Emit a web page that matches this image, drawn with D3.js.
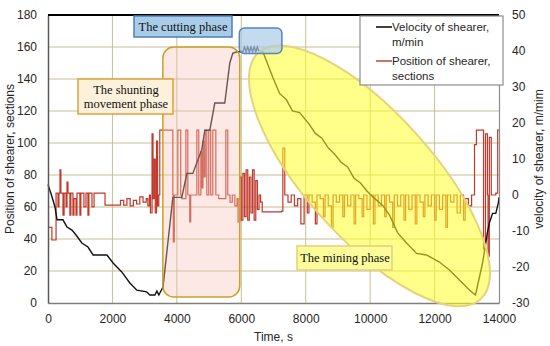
<!DOCTYPE html>
<html>
<head>
<meta charset="utf-8">
<script src="https://cdn.jsdelivr.net/npm/d3@7"></script>
<style>
body { margin: 0; background: #fff; }
svg { display: block; font-family: "Liberation Sans", Arial, sans-serif; }
</style>
</head>
<body>
<svg id="chart" width="550" height="346"></svg>
<script>
// black curve, read on the left axis (sections)
const blackTime = [0, 100, 217, 280, 465, 590, 745, 870, 1050, 1240, 1400, 1830, 2020, 2290, 2540, 2760, 3060, 3160, 3320, 3380, 3440, 3570,
    3876, 4155, 4310, 4496, 4775, 4868, 5023, 5178, 5488, 5643, 5736, 5860, 6050,
    6100, 6150, 6200, 6250, 6300, 6350, 6400, 6450, 6500, 6550, 6670,
    6980, 7190, 7400, 7590, 7810, 8100, 8300, 8500, 8700, 8900, 9100, 9300, 9500, 9700, 9900, 10100, 10390, 10600, 10850,
    11130, 11440, 11750, 12150, 12460, 12770, 13090, 13270, 13490, 13640, 13700, 13800, 13900, 13980, 14000];
const blackValue = [74, 68, 60, 52, 52, 47.5, 45.6, 42.5, 37.5, 35, 30, 30, 25, 19.4, 12.5, 8, 7, 5, 5, 7.5, 5, 10,
    66, 66, 81, 81, 96, 108, 108, 125, 125, 150, 156, 157, 157,
    160, 157, 160, 157, 160, 157, 160, 157, 160, 157, 157,
    141, 131, 127, 120, 119, 112, 106, 103, 97, 93, 88, 85, 78, 75, 70, 66, 61, 55, 44,
    37.5, 31, 30, 25.6, 20.6, 14.4, 8, 5, 25, 44, 50, 56, 56, 62.5, 66];

// red curve, read on the right axis (m/min), held until the next time
const redTime = [0, 120, 250, 310, 340, 372, 400, 465, 500, 560, 590, 620, 680, 710, 775, 805, 870, 900, 990, 1020, 1115, 1180, 1240, 1270, 1365, 1430,
    1770, 2200, 2250, 2350, 2450, 2550, 2650, 2750, 2850, 2950, 3050, 3100, 3150, 3180, 3230, 3260, 3300, 3330, 3370, 3400, 3440,
    3470, 3875, 3890, 3920, 4030, 4120, 4150, 4280, 4340, 4400, 4430, 4620, 4680, 4745, 4780, 4810, 4850, 4880, 4930, 4990, 5050, 5115, 5210,
    5300, 5520, 5580, 5650, 5720, 5800, 5870, 5900,
    5950, 6000, 6050, 6100, 6150, 6200, 6250, 6300, 6350, 6400, 6450, 6500, 6550, 6600, 6650,
    7250, 7290, 7350, 7450, 7550, 7650, 7750, 7850, 7950, 8050, 8100, 8200, 8300, 8350, 8450, 8550, 8600, 8700, 8800, 8850, 8950, 9050,
    9150, 9200, 9300, 9400, 9500, 9550, 9650, 9750, 9800, 9900, 10000, 10100, 10150, 10250, 10350, 10450, 10500, 10600, 10700, 10750,
    10850, 10950, 11050, 11100, 11200, 11300, 11400, 11450, 11550, 11650, 11700, 11800, 11900, 12000, 12050, 12150, 12250, 12350, 12400,
    12500, 12600, 12700, 12800, 12900, 12950, 13050, 13150, 13240,
    13300, 13500, 13520, 13580, 13640, 13660, 13700, 13760, 13900, 13960, 14000];
const redValue = [-9, -12.5, 0.5, -3.3, 0.5, 7, 0.5, -5.6, 0.5, -3.3, 3.6, 0.5, -5.6, 0.5, -5.6, -1, -5.6, 0.5, -5.6, 0.5, -3.3, 0.5, -5.6, 0.5, -3.3, 0.5,
    -2.8, -2.8, -1.5, -2.8, -1, -3, -1.5, -2.5, -0.5, -2, -1, -3, 0, -5, 17, -1, 10, -5, 15, -3, 0,
    18, 0, -13, 0, 18, 0, -1, 18, 0, -7.5, 0, 18, 0, 12, 2, 15, 5, 18, 0, 18, 0, 18, 0,
    -1, 18, 0, -2, 0, -3, -1, -7.5,
    5, -7, 6, -6, 7, -7, 5, -5, 7, -7, 4, -4, 0, -2, -4.7,
    -4.5, 13, 0, -2, 0, -3, -1, -8, 0, -5, 0, -2, -8, 0, -1, -6, 0, -3, -9, 0, -2, 0,
    -6, 0, -3, 0, -8, 0, -1, -6, 0, -4, 0, -8, 0, -3, 0, -6, 0, -2, -9, 0,
    -3, 0, -7, 0, -4, 0, -8, 0, -2, -6, 0, -3, 0, -7, 0, -4, 0, -9, 0,
    -2, 0, -5, 0, -7, -1, -3, 0, 14,
    18, 18, -15, 17, 0, -17, 16, 0, 0.5, 18, 18];

const xTicks = [0, 2000, 4000, 6000, 8000, 10000, 12000, 14000];
const leftTicks = [0, 20, 40, 60, 80, 100, 120, 140, 160, 180];
const rightTicks = [-30, -20, -10, 0, 10, 20, 30, 40, 50];

const svg = d3.select("#chart"),
      margin = { top: 15, right: 51, bottom: 43, left: 48 },
      width = +svg.attr("width") - margin.left - margin.right,
      height = +svg.attr("height") - margin.top - margin.bottom;

const x = d3.scaleLinear().domain([0, 14000]).range([margin.left, margin.left + width]);
const yL = d3.scaleLinear().domain([0, 180]).range([margin.top + height, margin.top]);
const yR = d3.scaleLinear().domain([-30, 50]).range([margin.top + height, margin.top]);

const gridColor = "#c5c092";

// grid
svg.append("g").selectAll("line")
    .data(leftTicks.slice(1, -1))
    .join("line")
    .attr("x1", x(0)).attr("x2", x(14000))
    .attr("y1", d => yL(d)).attr("y2", d => yL(d))
    .attr("stroke", gridColor).attr("stroke-width", 1);

svg.append("g").selectAll("line")
    .data(xTicks.slice(1, -1))
    .join("line")
    .attr("x1", d => x(d)).attr("x2", d => x(d))
    .attr("y1", yL(0)).attr("y2", yL(180))
    .attr("stroke", gridColor).attr("stroke-width", 1);

// series
const redLine = d3.line()
    .x((d, i) => x(redTime[i]))
    .y(d => yR(d))
    .curve(d3.curveStepAfter);
svg.append("path")
    .attr("d", redLine(redValue))
    .attr("fill", "none")
    .attr("stroke", "#c0392b")
    .attr("stroke-width", 1.2);

const blackLine = d3.line()
    .x((d, i) => x(blackTime[i]))
    .y(d => yL(d));
svg.append("path")
    .attr("d", blackLine(blackValue))
    .attr("fill", "none")
    .attr("stroke", "#111")
    .attr("stroke-width", 1.4);

// axes
svg.append("g")
    .attr("transform", `translate(0,${yL(0)})`)
    .call(d3.axisBottom(x).tickValues(xTicks).tickSize(0).tickPadding(11).tickFormat(d3.format("d")))
    .call(g => g.select(".domain").attr("stroke", "#7f7f7f").attr("stroke-width", 1.5))
    .call(g => g.selectAll("text").attr("font-size", 12).attr("fill", "#262626").attr("font-family", "Liberation Sans, Arial, sans-serif"));

svg.append("g")
    .attr("transform", `translate(${x(0)},0)`)
    .call(d3.axisLeft(yL).tickValues(leftTicks).tickSize(0).tickPadding(11))
    .call(g => g.select(".domain").attr("stroke", "#595959").attr("stroke-width", 1.5))
    .call(g => g.selectAll("text").attr("font-size", 12).attr("fill", "#262626").attr("font-family", "Liberation Sans, Arial, sans-serif"));

svg.append("g")
    .attr("transform", `translate(${x(14000)},0)`)
    .call(d3.axisRight(yR).tickValues(rightTicks).tickSize(0).tickPadding(13).tickFormat(d => d < 0 ? "-" + Math.abs(d) : d))
    .call(g => g.select(".domain").attr("stroke", "#8c8c8c").attr("stroke-width", 1.2))
    .call(g => g.selectAll("text").attr("font-size", 12).attr("fill", "#262626").attr("font-family", "Liberation Sans, Arial, sans-serif"));

svg.append("line")
    .attr("x1", x(0)).attr("x2", x(14000))
    .attr("y1", yL(180)).attr("y2", yL(180))
    .attr("stroke", "#000").attr("stroke-width", 2);

// axis titles
svg.append("text")
    .attr("x", x(7000)).attr("y", 341)
    .attr("text-anchor", "middle")
    .attr("font-size", 12).attr("fill", "#262626")
    .text("Time, s");

svg.append("text")
    .attr("transform", `translate(14,${yL(90)}) rotate(-90)`)
    .attr("text-anchor", "middle")
    .attr("font-size", 12).attr("fill", "#262626")
    .text("Position of shearer, sections");

svg.append("text")
    .attr("transform", `translate(543,${yR(10)}) rotate(-90)`)
    .attr("text-anchor", "middle")
    .attr("font-size", 12).attr("fill", "#262626")
    .text("velocity of shearer, m/mim");

// phase shapes
const serif = "Liberation Serif, Times New Roman, serif";

svg.append("rect")
    .attr("x", x(3565)).attr("y", yL(160))
    .attr("width", x(5952) - x(3565)).attr("height", yL(3.75) - yL(160))
    .attr("rx", 11)
    .attr("fill", "#f6c2b8").attr("fill-opacity", 0.38)
    .attr("stroke", "#c9a128").attr("stroke-width", 1.5);

const ecx = x(9980), ecy = yL(79.4);
svg.append("ellipse")
    .attr("cx", ecx).attr("cy", ecy)
    .attr("rx", 166).attr("ry", 63)
    .attr("transform", `rotate(48,${ecx},${ecy})`)
    .attr("fill", "#ffff2a").attr("fill-opacity", 0.55)
    .attr("stroke", "#e6d27a").attr("stroke-width", 2);

svg.append("rect")
    .attr("x", x(5940)).attr("y", yL(171.9))
    .attr("width", x(7260) - x(5940)).attr("height", yL(156) - yL(171.9))
    .attr("rx", 5)
    .attr("fill", "#a9cbe8").attr("fill-opacity", 0.7)
    .attr("stroke", "#5a85b8").attr("stroke-width", 1.5);

function label(x0, y0, w, h, lines, fill, stroke, cx, base) {
    svg.append("rect")
        .attr("x", x0).attr("y", y0).attr("width", w).attr("height", h)
        .attr("fill", fill).attr("stroke", stroke).attr("stroke-width", 1.5);
    lines.forEach((t, i) => {
        svg.append("text")
            .attr("x", cx).attr("y", base + i * 13.5)
            .attr("text-anchor", "middle")
            .attr("font-family", serif).attr("font-size", 12.5).attr("fill", "#111")
            .text(t);
    });
}

label(134, 16, 98, 21, ["The cutting phase"], "#a9cde8", "#4f7fb5", 183, 31);
label(78, 79, 95, 35, ["The shunting", "movement phase"], "#fdf1dc", "#dca238", 126, 94);
label(297, 246, 95, 24, ["The mining phase"], "#fdfc9a", "#e3cf78", 345, 262);

// legend
const legend = svg.append("g");
legend.append("rect")
    .attr("x", 360).attr("y", 16).attr("width", 143).attr("height", 69)
    .attr("fill", "#fff").attr("stroke", "#8c8c8c").attr("stroke-width", 1.2);

const legendItems = [
    { color: "#111", lines: ["Velocity of shearer,", "m/min"], y: 27 },
    { color: "#b0583e", lines: ["Position of shearer,", "sections"], y: 61 }
];
legendItems.forEach(d => {
    legend.append("line")
        .attr("x1", 376).attr("x2", 392).attr("y1", d.y).attr("y2", d.y)
        .attr("stroke", d.color).attr("stroke-width", 1.6);
    d.lines.forEach((t, i) => {
        legend.append("text")
            .attr("x", 392).attr("y", d.y + 4 + i * 15)
            .attr("font-size", 11.5).attr("fill", "#262626")
            .text(t);
    });
});
</script>
</body>
</html>
